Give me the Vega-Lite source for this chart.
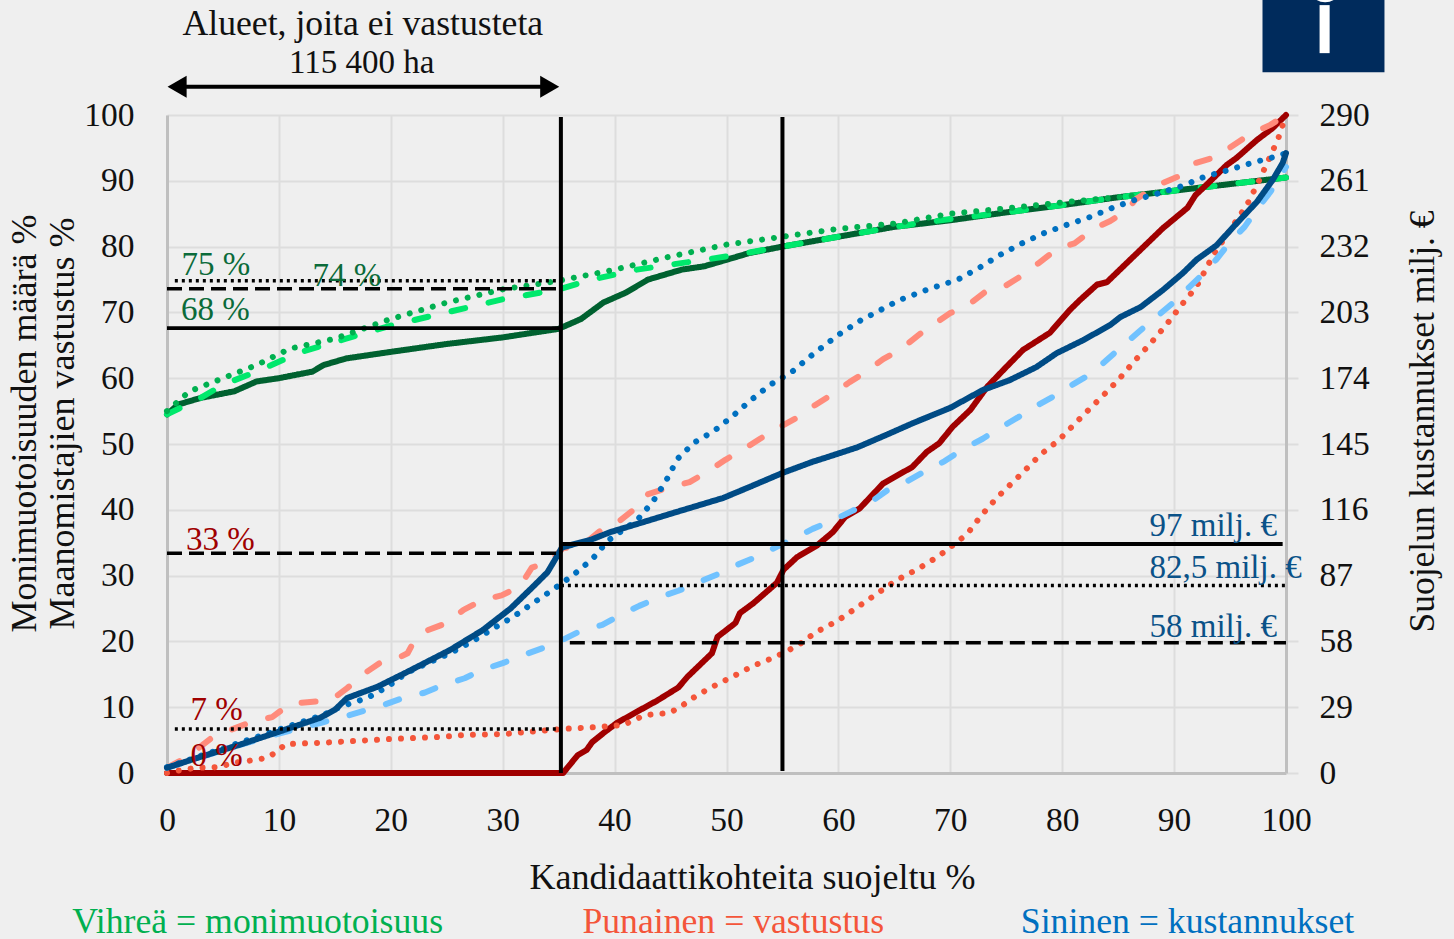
{"$schema":"https://vega.github.io/schema/vega-lite/v6.json","autosize":"none","padding":{"left":167,"top":115,"right":168,"bottom":166},"width":1119,"height":658,"background":"#EFEFEF","config":{"view":{"stroke":null},"font":"Liberation Serif"},
"datasets":{
"lines":[
{"s":"gs","x":0,"y":54.5},{"s":"gs","x":1,"y":56},{"s":"gs","x":3,"y":57},{"s":"gs","x":6,"y":58},{"s":"gs","x":8,"y":59.5},{"s":"gs","x":10,"y":60},{"s":"gs","x":13,"y":61},{"s":"gs","x":14,"y":62},{"s":"gs","x":16,"y":63},{"s":"gs","x":20,"y":64},{"s":"gs","x":25,"y":65.2},{"s":"gs","x":30,"y":66.2},{"s":"gs","x":35,"y":67.5},{"s":"gs","x":37,"y":69},{"s":"gs","x":39,"y":71.5},{"s":"gs","x":41,"y":73},{"s":"gs","x":43,"y":75},{"s":"gs","x":46,"y":76.5},{"s":"gs","x":48,"y":77},{"s":"gs","x":50,"y":78},{"s":"gs","x":52,"y":79},{"s":"gs","x":55,"y":80},{"s":"gs","x":60,"y":81.5},{"s":"gs","x":65,"y":83},{"s":"gs","x":70,"y":84},{"s":"gs","x":75,"y":85.2},{"s":"gs","x":80,"y":86.3},{"s":"gs","x":85,"y":87.5},{"s":"gs","x":90,"y":88.5},{"s":"gs","x":95,"y":89.5},{"s":"gs","x":100,"y":90.5},
{"s":"gd","x":0,"y":54.5},{"s":"gd","x":3,"y":57},{"s":"gd","x":5,"y":59},{"s":"gd","x":8,"y":61},{"s":"gd","x":12,"y":64},{"s":"gd","x":16,"y":66},{"s":"gd","x":20,"y":68},{"s":"gd","x":25,"y":70},{"s":"gd","x":30,"y":72},{"s":"gd","x":35,"y":73.5},{"s":"gd","x":38,"y":75},{"s":"gd","x":42,"y":76.5},{"s":"gd","x":50,"y":78.5},{"s":"gd","x":55,"y":80},{"s":"gd","x":60,"y":81.5},{"s":"gd","x":65,"y":83},{"s":"gd","x":70,"y":84.2},{"s":"gd","x":75,"y":85.2},{"s":"gd","x":80,"y":86.3},{"s":"gd","x":85,"y":87.5},{"s":"gd","x":90,"y":88.5},{"s":"gd","x":95,"y":89.5},{"s":"gd","x":100,"y":90.5},
{"s":"gp","x":0,"y":55},{"s":"gp","x":2,"y":58},{"s":"gp","x":5,"y":60},{"s":"gp","x":8,"y":62},{"s":"gp","x":11,"y":64.5},{"s":"gp","x":15,"y":66},{"s":"gp","x":20,"y":69},{"s":"gp","x":25,"y":71.5},{"s":"gp","x":30,"y":73.5},{"s":"gp","x":35,"y":74.8},{"s":"gp","x":40,"y":76.5},{"s":"gp","x":45,"y":78.5},{"s":"gp","x":50,"y":80.3},{"s":"gp","x":55,"y":81.5},{"s":"gp","x":60,"y":82.7},{"s":"gp","x":65,"y":83.5},{"s":"gp","x":70,"y":85},{"s":"gp","x":75,"y":85.8},{"s":"gp","x":80,"y":86.7},{"s":"gp","x":85,"y":87.5},{"s":"gp","x":90,"y":88.5},
{"s":"rs","x":0,"y":0},{"s":"rs","x":35.4,"y":0},{"s":"rs","x":36.7,"y":2.7},{"s":"rs","x":37.5,"y":3.5},{"s":"rs","x":38,"y":4.7},{"s":"rs","x":39.1,"y":6.2},{"s":"rs","x":40.2,"y":7.6},{"s":"rs","x":42.3,"y":9.6},{"s":"rs","x":43.8,"y":11},{"s":"rs","x":45.7,"y":13},{"s":"rs","x":46.5,"y":14.6},{"s":"rs","x":48.7,"y":18.2},{"s":"rs","x":49.2,"y":20.7},{"s":"rs","x":50.8,"y":22.8},{"s":"rs","x":51.2,"y":24.3},{"s":"rs","x":52.4,"y":25.8},{"s":"rs","x":54.5,"y":28.9},{"s":"rs","x":55.1,"y":30.9},{"s":"rs","x":56.3,"y":32.8},{"s":"rs","x":58.1,"y":34.6},{"s":"rs","x":59.5,"y":36.6},{"s":"rs","x":60.6,"y":38.9},{"s":"rs","x":61.9,"y":40.2},{"s":"rs","x":63,"y":42.2},{"s":"rs","x":64,"y":44},{"s":"rs","x":66.6,"y":46.5},{"s":"rs","x":67.9,"y":48.8},{"s":"rs","x":69,"y":50.1},{"s":"rs","x":70.2,"y":52.6},{"s":"rs","x":71.8,"y":55.2},{"s":"rs","x":73.3,"y":58.7},{"s":"rs","x":75,"y":61.7},{"s":"rs","x":76.5,"y":64.3},{"s":"rs","x":78.9,"y":66.9},{"s":"rs","x":80.7,"y":70.4},{"s":"rs","x":81.6,"y":71.9},{"s":"rs","x":83.1,"y":74.2},{"s":"rs","x":84,"y":74.6},{"s":"rs","x":85.4,"y":76.9},{"s":"rs","x":87.6,"y":80.5},{"s":"rs","x":89,"y":82.8},{"s":"rs","x":91.2,"y":85.9},{"s":"rs","x":91.9,"y":87.8},{"s":"rs","x":92.9,"y":89.4},{"s":"rs","x":94.7,"y":92.4},{"s":"rs","x":95.6,"y":93.5},{"s":"rs","x":97.4,"y":96.2},{"s":"rs","x":98.8,"y":98},{"s":"rs","x":100,"y":100},
{"s":"rd","x":0,"y":0.8},{"s":"rd","x":1.8,"y":2.4},{"s":"rd","x":4.1,"y":5.5},{"s":"rd","x":5.6,"y":6.5},{"s":"rd","x":7.6,"y":7.8},{"s":"rd","x":9.4,"y":8.5},{"s":"rd","x":11,"y":10.5},{"s":"rd","x":12.8,"y":10.8},{"s":"rd","x":14.7,"y":11.1},{"s":"rd","x":16.1,"y":12.9},{"s":"rd","x":17.7,"y":15.2},{"s":"rd","x":19,"y":16.7},{"s":"rd","x":20.8,"y":17.6},{"s":"rd","x":21.5,"y":18.2},{"s":"rd","x":22,"y":19.8},{"s":"rd","x":23.3,"y":21.7},{"s":"rd","x":25,"y":22.8},{"s":"rd","x":26.5,"y":24.8},{"s":"rd","x":28.2,"y":26.3},{"s":"rd","x":29.9,"y":27},{"s":"rd","x":31.5,"y":28.3},{"s":"rd","x":32.6,"y":31.2},{"s":"rd","x":34.2,"y":32.1},{"s":"rd","x":35.4,"y":34.2},{"s":"rd","x":36,"y":34.3},{"s":"rd","x":37.5,"y":35.1},{"s":"rd","x":39,"y":37.2},{"s":"rd","x":40.5,"y":38.4},{"s":"rd","x":42,"y":40.4},{"s":"rd","x":43,"y":42.4},{"s":"rd","x":45.1,"y":43.5},{"s":"rd","x":46.7,"y":44.2},{"s":"rd","x":48.5,"y":46},{"s":"rd","x":49.9,"y":47.6},{"s":"rd","x":51.7,"y":49.4},{"s":"rd","x":53,"y":50.8},{"s":"rd","x":54.8,"y":52.6},{"s":"rd","x":56.3,"y":54},{"s":"rd","x":57.9,"y":55.9},{"s":"rd","x":59.3,"y":57.4},{"s":"rd","x":61,"y":59.4},{"s":"rd","x":62.4,"y":60.9},{"s":"rd","x":64,"y":62.9},{"s":"rd","x":65.5,"y":64.3},{"s":"rd","x":67.5,"y":67},{"s":"rd","x":70,"y":69.9},{"s":"rd","x":71.6,"y":71.1},{"s":"rd","x":73.1,"y":73.1},{"s":"rd","x":74.9,"y":74},{"s":"rd","x":76.5,"y":75.7},{"s":"rd","x":77.9,"y":77.5},{"s":"rd","x":79.5,"y":79.6},{"s":"rd","x":81.1,"y":80.5},{"s":"rd","x":82.8,"y":82.7},{"s":"rd","x":84.3,"y":83.9},{"s":"rd","x":85.9,"y":85.6},{"s":"rd","x":86.5,"y":87.1},{"s":"rd","x":88.6,"y":89.4},{"s":"rd","x":90.3,"y":90.6},{"s":"rd","x":91.9,"y":92.7},{"s":"rd","x":93.7,"y":93.6},{"s":"rd","x":95.3,"y":95.4},{"s":"rd","x":96.8,"y":97.1},{"s":"rd","x":98.6,"y":98.5},{"s":"rd","x":100,"y":100},
{"s":"rp","x":0,"y":0},{"s":"rp","x":1.4,"y":0.5},{"s":"rp","x":2.7,"y":0.8},{"s":"rp","x":4.7,"y":0.9},{"s":"rp","x":5.8,"y":1.5},{"s":"rp","x":7.9,"y":2},{"s":"rp","x":8.9,"y":2.3},{"s":"rp","x":9.8,"y":3.2},{"s":"rp","x":10.6,"y":4.4},{"s":"rp","x":13.9,"y":4.6},{"s":"rp","x":17.1,"y":4.9},{"s":"rp","x":20.4,"y":5.2},{"s":"rp","x":24.7,"y":5.5},{"s":"rp","x":26.8,"y":5.8},{"s":"rp","x":30,"y":5.9},{"s":"rp","x":33.3,"y":6.4},{"s":"rp","x":35.4,"y":6.7},{"s":"rp","x":38.7,"y":7},{"s":"rp","x":40.8,"y":7.3},{"s":"rp","x":42.7,"y":8.8},{"s":"rp","x":44.8,"y":9.1},{"s":"rp","x":45.8,"y":9.9},{"s":"rp","x":46.7,"y":11.1},{"s":"rp","x":48.5,"y":12.9},{"s":"rp","x":50.5,"y":14.6},{"s":"rp","x":52.4,"y":16.3},{"s":"rp","x":54.3,"y":17.6},{"s":"rp","x":56.3,"y":19.3},{"s":"rp","x":58,"y":21.4},{"s":"rp","x":59.9,"y":23.1},{"s":"rp","x":61.7,"y":25.2},{"s":"rp","x":63.4,"y":27.2},{"s":"rp","x":65.2,"y":29.3},{"s":"rp","x":67.1,"y":31},{"s":"rp","x":69,"y":33},{"s":"rp","x":70.6,"y":35.1},{"s":"rp","x":71.5,"y":36.3},{"s":"rp","x":72.8,"y":39.2},{"s":"rp","x":74.2,"y":41.9},{"s":"rp","x":76.5,"y":45.7},{"s":"rp","x":78,"y":48.3},{"s":"rp","x":79.7,"y":50.6},{"s":"rp","x":81.9,"y":54.4},{"s":"rp","x":83.5,"y":57.1},{"s":"rp","x":85,"y":59.7},{"s":"rp","x":86.4,"y":62.5},{"s":"rp","x":87.9,"y":65.3},{"s":"rp","x":89.3,"y":68.1},{"s":"rp","x":90.6,"y":71},{"s":"rp","x":92,"y":73.9},{"s":"rp","x":93.5,"y":78.7},{"s":"rp","x":95.3,"y":83.3},{"s":"rp","x":96.5,"y":86.3},{"s":"rp","x":97.5,"y":89.7},{"s":"rp","x":98.4,"y":93},{"s":"rp","x":99.3,"y":96.4},{"s":"rp","x":100,"y":100},
{"s":"bd","x":0,"y":0.8},{"s":"bd","x":6,"y":4},{"s":"bd","x":10,"y":6},{"s":"bd","x":13.7,"y":7.6},{"s":"bd","x":15.7,"y":8.5},{"s":"bd","x":17.5,"y":9.4},{"s":"bd","x":19.3,"y":10.3},{"s":"bd","x":21.1,"y":11.4},{"s":"bd","x":23,"y":12.2},{"s":"bd","x":24.7,"y":13.4},{"s":"bd","x":26.6,"y":14.4},{"s":"bd","x":28.2,"y":15.7},{"s":"bd","x":30,"y":16.7},{"s":"bd","x":31.8,"y":17.9},{"s":"bd","x":33.6,"y":19},{"s":"bd","x":35.3,"y":20.2},{"s":"bd","x":37.1,"y":21.7},{"s":"bd","x":38.9,"y":22.5},{"s":"bd","x":40.5,"y":24},{"s":"bd","x":42.2,"y":25.4},{"s":"bd","x":44,"y":26.7},{"s":"bd","x":45.7,"y":27.7},{"s":"bd","x":47.5,"y":29},{"s":"bd","x":49.2,"y":30.2},{"s":"bd","x":50.9,"y":31.6},{"s":"bd","x":52.6,"y":32.8},{"s":"bd","x":54.4,"y":34.3},{"s":"bd","x":56.1,"y":35.7},{"s":"bd","x":57.7,"y":37.1},{"s":"bd","x":59.5,"y":38.4},{"s":"bd","x":61.2,"y":39.8},{"s":"bd","x":63,"y":41.3},{"s":"bd","x":64.4,"y":43},{"s":"bd","x":66.2,"y":44.4},{"s":"bd","x":67.9,"y":46},{"s":"bd","x":69.5,"y":47.4},{"s":"bd","x":71.1,"y":49.2},{"s":"bd","x":72.9,"y":50.8},{"s":"bd","x":74.4,"y":52.4},{"s":"bd","x":76,"y":54},{"s":"bd","x":77.7,"y":55.8},{"s":"bd","x":79.4,"y":57.4},{"s":"bd","x":81,"y":59.1},{"s":"bd","x":82.7,"y":60.8},{"s":"bd","x":84,"y":62.8},{"s":"bd","x":85.4,"y":64.9},{"s":"bd","x":86.8,"y":67},{"s":"bd","x":88.4,"y":69.3},{"s":"bd","x":89.8,"y":71.3},{"s":"bd","x":91.2,"y":73.6},{"s":"bd","x":92.5,"y":75.7},{"s":"bd","x":93.8,"y":78.1},{"s":"bd","x":95,"y":80.7},{"s":"bd","x":96.3,"y":83},{"s":"bd","x":97.5,"y":85.9},{"s":"bd","x":98.6,"y":88.3},{"s":"bd","x":100,"y":92.1},
{"s":"bp","x":0,"y":0.9},{"s":"bp","x":3,"y":2.6},{"s":"bp","x":10,"y":6.6},{"s":"bp","x":13.9,"y":8.8},{"s":"bp","x":15.7,"y":10.2},{"s":"bp","x":17.9,"y":11.4},{"s":"bp","x":19.7,"y":13.1},{"s":"bp","x":21.4,"y":15.2},{"s":"bp","x":23.3,"y":16.7},{"s":"bp","x":25.3,"y":18.2},{"s":"bp","x":27.3,"y":20},{"s":"bp","x":29.1,"y":21.9},{"s":"bp","x":30.9,"y":23.7},{"s":"bp","x":32.7,"y":25.8},{"s":"bp","x":34.6,"y":28},{"s":"bp","x":36.3,"y":30.1},{"s":"bp","x":38,"y":32.5},{"s":"bp","x":39.4,"y":35.3},{"s":"bp","x":42,"y":38.4},{"s":"bp","x":43.4,"y":41.2},{"s":"bp","x":44.6,"y":44.4},{"s":"bp","x":45.6,"y":47.7},{"s":"bp","x":47.1,"y":50.2},{"s":"bp","x":48.9,"y":52},{"s":"bp","x":50.6,"y":54.3},{"s":"bp","x":52.2,"y":56.7},{"s":"bp","x":53.9,"y":59},{"s":"bp","x":55.8,"y":60.9},{"s":"bp","x":57.4,"y":63.2},{"s":"bp","x":60,"y":66.6},{"s":"bp","x":62,"y":68.8},{"s":"bp","x":65.5,"y":71.9},{"s":"bp","x":68,"y":73.5},{"s":"bp","x":70.7,"y":75},{"s":"bp","x":72.7,"y":76.9},{"s":"bp","x":74.4,"y":78.7},{"s":"bp","x":76.4,"y":80.5},{"s":"bp","x":78.3,"y":82},{"s":"bp","x":80.4,"y":83.3},{"s":"bp","x":82.5,"y":84.5},{"s":"bp","x":84.5,"y":85.9},{"s":"bp","x":86.5,"y":87.1},{"s":"bp","x":88.6,"y":88.1},{"s":"bp","x":90.7,"y":89.2},{"s":"bp","x":92.7,"y":90.6},{"s":"bp","x":94.8,"y":91.6},{"s":"bp","x":96.9,"y":92.7},{"s":"bp","x":98.9,"y":93.6},{"s":"bp","x":100,"y":94.2},
{"s":"bs","x":0,"y":0.8},{"s":"bs","x":2.9,"y":2.4},{"s":"bs","x":6.5,"y":4.3},{"s":"bs","x":10.4,"y":6.5},{"s":"bs","x":13.7,"y":8.4},{"s":"bs","x":15,"y":9.6},{"s":"bs","x":16.1,"y":11.4},{"s":"bs","x":18.8,"y":13.1},{"s":"bs","x":21.4,"y":15.3},{"s":"bs","x":25.3,"y":18.7},{"s":"bs","x":28.2,"y":21.7},{"s":"bs","x":30.7,"y":25},{"s":"bs","x":32.7,"y":28.3},{"s":"bs","x":34,"y":30.5},{"s":"bs","x":34.8,"y":32.8},{"s":"bs","x":35.3,"y":34.3},{"s":"bs","x":37.8,"y":35.4},{"s":"bs","x":39.6,"y":36.6},{"s":"bs","x":42.5,"y":38.1},{"s":"bs","x":45.2,"y":39.5},{"s":"bs","x":49.7,"y":41.8},{"s":"bs","x":52.1,"y":43.5},{"s":"bs","x":55,"y":45.6},{"s":"bs","x":57.7,"y":47.3},{"s":"bs","x":59,"y":48},{"s":"bs","x":61.7,"y":49.5},{"s":"bs","x":64.3,"y":51.4},{"s":"bs","x":66.7,"y":53.2},{"s":"bs","x":70,"y":55.5},{"s":"bs","x":72.9,"y":58.2},{"s":"bs","x":75.3,"y":59.7},{"s":"bs","x":77.7,"y":61.7},{"s":"bs","x":79.5,"y":63.8},{"s":"bs","x":81.9,"y":65.8},{"s":"bs","x":84.3,"y":68.1},{"s":"bs","x":85.2,"y":69.3},{"s":"bs","x":87,"y":70.8},{"s":"bs","x":89,"y":73.4},{"s":"bs","x":90.8,"y":76},{"s":"bs","x":92,"y":78},{"s":"bs","x":93.8,"y":80.2},{"s":"bs","x":95.3,"y":83},{"s":"bs","x":97.4,"y":86.8},{"s":"bs","x":98.8,"y":90.1},{"s":"bs","x":99.7,"y":92.7},{"s":"bs","x":100,"y":94.2}
],
"refs":[
{"kind":"v","x":35.2,"x2":35.2,"y":0,"y2":99.7},{"kind":"v","x":55,"x2":55,"y":0.3,"y2":99.7},
{"kind":"solid","x":0,"x2":35.2,"y":67.6,"y2":67.6},{"kind":"dash","x":0,"x2":35.2,"y":73.6,"y2":73.6},{"kind":"dot","x":0.7,"x2":35.2,"y":74.8,"y2":74.8},{"kind":"dash","x":0,"x2":35.2,"y":33.4,"y2":33.4},{"kind":"dot","x":0.7,"x2":35.2,"y":6.7,"y2":6.7},
{"kind":"solid","x":35.2,"x2":99.7,"y":34.8,"y2":34.8},{"kind":"dot","x":35.2,"x2":100,"y":28.5,"y2":28.5},{"kind":"dash","x":36,"x2":100,"y":19.8,"y2":19.8}
],
"notes":[
{"t":"75 %","g":"green","x":1.3,"y":75.7},{"t":"74 %","g":"green","x":13,"y":74},{"t":"68 %","g":"green","x":1.25,"y":68.8},
{"t":"33 %","g":"red","x":1.7,"y":33.9},{"t":"7 %","g":"red","x":2.1,"y":8.05},{"t":"0 %","g":"red","x":2.1,"y":1.06},
{"t":"97 milj. €","g":"blue","x":87.8,"y":36},{"t":"82,5 milj. €","g":"blue","x":87.8,"y":29.6},{"t":"58 milj. €","g":"blue","x":87.8,"y":20.7},
{"t":"115 400 ha","g":"black","x":10.9,"y":106.4}
],
"heads":[{"t":"Alueet, joita ei vastusteta","g":"black","x":17.5,"y":112.1},
{"t":"Vihreä = monimuotoisuus","g":"lgreen","x":8.1,"y":-24.3},{"t":"Punainen = vastustus","g":"lred","x":50.6,"y":-24.3},{"t":"Sininen = kustannukset","g":"lblue","x":91.2,"y":-24.3}],
"arrowline":[{"x":0.9,"y":104.3},{"x":34.2,"y":104.3}],
"arrowheads":[{"end":"left","x":0.9,"y":104.3},{"end":"right","x":34.2,"y":104.3}],
"box":[{"x":97.9,"x2":108.8,"y":106.5,"y2":117.6}],
"bar":[{"x":103,"x2":103.9,"y":109.4,"y2":116.7}],
"ring":[{"x":103.5,"y":119.8}],
"right":[{"v":0},{"v":290}]
},
"layer":[
{"layer":[
{"data":{"name":"lines"},"mark":{"type":"line","strokeWidth":6,"strokeCap":"round","strokeJoin":"round","clip":false},
"encoding":{
"x":{"field":"x","type":"quantitative","scale":{"domain":[0,100],"nice":false},"axis":{"values":[0,10,20,30,40,50,60,70,80,90,100],"title":"Kandidaattikohteita suojeltu %","titleFont":"Liberation Serif","titleFontSize":36,"titleFontWeight":"normal","titleColor":"#111","titleX":585,"titleY":115,"titleBaseline":"alphabetic","labelFont":"Liberation Serif","labelFontSize":33.5,"labelColor":"#111","labelPadding":57,"labelBaseline":"alphabetic","labelFlush":false,"labelOverlap":false,"labelBound":false,"tickSize":0,"grid":true,"gridColor":"#DDDDDD","gridWidth":2,"domainColor":"#BFBFBF","domainWidth":3}},
"y":{"field":"y","type":"quantitative","scale":{"domain":[0,100],"nice":false},"axis":{"values":[0,10,20,30,40,50,60,70,80,90,100],"title":["Monimuotoisuuden määrä %","Maanomistajien vastustus %"],"titleFont":"Liberation Serif","titleFontSize":36,"titleFontWeight":"normal","titleColor":"#111","titleX":-124,"titleY":308,"titleLineHeight":38,"labelFont":"Liberation Serif","labelFontSize":33.5,"labelColor":"#111","labelPadding":33,"labelOverlap":false,"labelBound":false,"labelFlush":false,"tickSize":0,"grid":true,"gridColor":"#DDDDDD","gridWidth":2,"domainColor":"#BFBFBF","domainWidth":3}},
"color":{"field":"s","type":"nominal","legend":null,"scale":{"domain":["gs","gd","gp","rs","rd","rp","bd","bp","bs"],"range":["#006130","#00E86C","#00B050","#A00000","#FF8B7B","#F4553A","#70C2FF","#0070C0","#004B85"]}},
"strokeDash":{"field":"s","type":"nominal","legend":null,"scale":{"domain":["gs","gd","gp","rs","rd","rp","bd","bp","bs"],"range":[[1,0],[14,24],[0.01,12],[1,0],[14,24],[0.01,12],[14,24],[0.01,12],[1,0]]}}
}},
{"data":{"name":"refs"},"mark":{"type":"rule","clip":false},
"encoding":{"x":{"field":"x","type":"quantitative"},"x2":{"field":"x2"},"y":{"field":"y","type":"quantitative"},"y2":{"field":"y2"},"color":{"value":"#000"},
"strokeDash":{"field":"kind","type":"nominal","legend":null,"scale":{"domain":["v","solid","dash","dot"],"range":[[1,0],[1,0],[15,7],[3,4]]}},
"strokeWidth":{"field":"kind","type":"nominal","legend":null,"scale":{"domain":["v","solid","dash","dot"],"range":[4,3.5,3,3]}}}},
{"data":{"name":"notes"},"mark":{"type":"text","font":"Liberation Serif","fontSize":33,"align":"left","baseline":"alphabetic"},
"encoding":{"x":{"field":"x","type":"quantitative"},"y":{"field":"y","type":"quantitative"},"text":{"field":"t"},
"color":{"field":"g","type":"nominal","legend":null,"scale":{"domain":["green","red","blue","black"],"range":["#0B6B3A","#A00000","#0A5288","#111111"]}}}},
{"data":{"name":"heads"},"mark":{"type":"text","font":"Liberation Serif","fontSize":35.7,"align":"center","baseline":"alphabetic"},
"encoding":{"x":{"field":"x","type":"quantitative"},"y":{"field":"y","type":"quantitative"},"text":{"field":"t"},
"color":{"field":"g","type":"nominal","legend":null,"scale":{"domain":["black","lgreen","lred","lblue"],"range":["#111111","#00B050","#F4553A","#0070C0"]}}}},
{"data":{"name":"arrowline"},"mark":{"type":"line","color":"#000","strokeWidth":4,"clip":false},"encoding":{"x":{"field":"x","type":"quantitative"},"y":{"field":"y","type":"quantitative"}}},
{"data":{"name":"arrowheads"},"mark":{"type":"point","filled":true,"color":"#000","opacity":1},"encoding":{"x":{"field":"x","type":"quantitative"},"y":{"field":"y","type":"quantitative"},"size":{"value":484},"shape":{"field":"end","type":"nominal","legend":null,"scale":{"domain":["left","right"],"range":["triangle-left","triangle-right"]}}}},
{"data":{"name":"box"},"mark":{"type":"rect","color":"#002B5C","clip":false},"encoding":{"x":{"field":"x","type":"quantitative"},"x2":{"field":"x2"},"y":{"field":"y","type":"quantitative"},"y2":{"field":"y2"}}},
{"data":{"name":"bar"},"mark":{"type":"rect","color":"#FFFFFF","clip":false},"encoding":{"x":{"field":"x","type":"quantitative"},"x2":{"field":"x2"},"y":{"field":"y","type":"quantitative"},"y2":{"field":"y2"}}},
{"data":{"name":"ring"},"mark":{"type":"point","filled":false,"stroke":"#FFFFFF","strokeWidth":3,"opacity":1,"clip":false},"encoding":{"x":{"field":"x","type":"quantitative"},"y":{"field":"y","type":"quantitative"},"size":{"value":1018}}}
],"resolve":{"scale":{"color":"independent","strokeDash":"independent","strokeWidth":"independent","shape":"independent","size":"independent"}}},
{"data":{"name":"right"},"mark":{"type":"rule","opacity":0},
"encoding":{"y":{"field":"v","type":"quantitative","scale":{"domain":[0,290],"nice":false},"axis":{"orient":"right","values":[0,29,58,87,116,145,174,203,232,261,290],"title":"Suojelun kustannukset milj. €","titleAngle":-90,"titleFont":"Liberation Serif","titleFontSize":35.5,"titleFontWeight":"normal","titleColor":"#111","titleX":154,"titleY":306,"labelFont":"Liberation Serif","labelFontSize":33.5,"labelColor":"#111","labelPadding":21,"labelOverlap":false,"labelBound":false,"labelFlush":false,"tickSize":12,"tickColor":"#DDDDDD","tickWidth":2,"grid":false,"domainColor":"#BFBFBF","domainWidth":3}}}}
],
"resolve":{"scale":{"y":"independent"}}}
